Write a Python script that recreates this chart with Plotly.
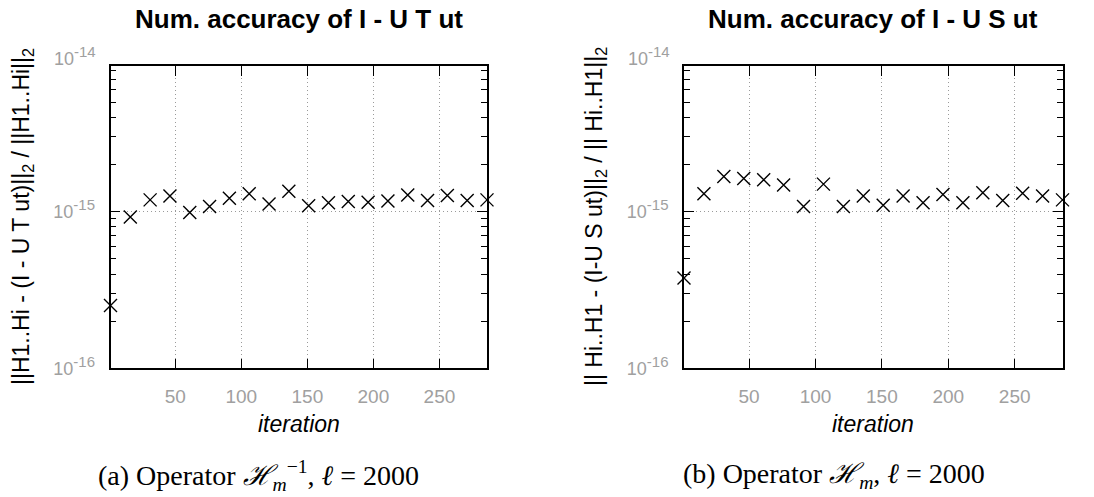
import plotly.graph_objects as go

# ---- data ----
iterations = [1, 16, 31, 46, 61, 76, 91, 106, 121, 136, 151, 166, 181, 196, 211, 226, 241, 256, 271, 286]
acc_UT = [2.52e-16, 9.25e-16, 1.19e-15, 1.26e-15, 0.99e-15, 1.08e-15, 1.22e-15, 1.30e-15, 1.12e-15, 1.35e-15,
          1.09e-15, 1.14e-15, 1.16e-15, 1.15e-15, 1.17e-15, 1.28e-15, 1.18e-15, 1.27e-15, 1.18e-15, 1.19e-15]
acc_US = [3.78e-16, 1.30e-15, 1.68e-15, 1.63e-15, 1.60e-15, 1.48e-15, 1.08e-15, 1.50e-15, 1.08e-15, 1.26e-15,
          1.10e-15, 1.26e-15, 1.14e-15, 1.29e-15, 1.14e-15, 1.32e-15, 1.18e-15, 1.31e-15, 1.26e-15, 1.19e-15]

x_ticks = [50, 100, 150, 200, 250]
y_ticks = [1e-16, 1e-15]
SUP = "<sup><span style='font-size:15px'>%s</span></sup>"
y_ticktext = ["10" + SUP % "-16", "10" + SUP % "-15"]
top_label = "10" + SUP % "-14"

titles = ["Num. accuracy of I - U T ut", "Num. accuracy of I - U S ut"]
ylabels = ["||H1..Hi - (I - U T ut)||<sub>2</sub> / ||H1..Hi||<sub>2</sub>",
           "|| Hi..H1 - (I-U S ut)||<sub>2</sub> / || Hi..H1||<sub>2</sub>"]
xlabel = "iteration"
captions = ["(a) Operator <i>ℋ</i><sub><i>m</i></sub><sup>−1</sup>, <i>ℓ</i> = 2000",
            "(b) Operator <i>ℋ</i><sub><i>m</i></sub>, <i>ℓ</i> = 2000"]

W, H = 1094, 497
SANS = "Liberation Sans, Arial, Helvetica, sans-serif"
SERIF = "Liberation Serif, Times New Roman, serif"

x_domains = [[110.5 / W, 487 / W], [684 / W, 1062.5 / W]]
y_bottom_px, y_top_px = 376.0, 67.0
y_domain = [1 - y_bottom_px / H, 1 - y_top_px / H]
y_range = [-16, -14.068]
decade_px = (y_bottom_px - y_top_px) / (y_range[1] - y_range[0])

fig = go.Figure()
for i, vals in enumerate([acc_UT, acc_US]):
    fig.add_trace(go.Scatter(
        x=iterations, y=vals, mode="markers",
        marker=dict(symbol="x-thin-open", size=13, color="black",
                    line=dict(color="black", width=1.4)),
        xaxis="x" if i == 0 else "x2", yaxis="y" if i == 0 else "y2",
        cliponaxis=False, showlegend=False, hoverinfo="skip"))

minor_vals = [k * 10.0 ** e for e in (-16, -15) for k in range(2, 10)]

axis_common = dict(showline=True, linecolor="black", linewidth=1.8, mirror="ticks",
                   ticks="inside", ticklen=10, tickwidth=1.2, tickcolor="black",
                   showgrid=True, gridcolor="#9a9a9a", griddash="1px,3px", gridwidth=1,
                   zeroline=False, tickfont=dict(family=SANS, size=19, color="#a0a0a0"))

layout = dict(width=W, height=H, margin=dict(l=0, r=0, t=0, b=0),
              paper_bgcolor="white", plot_bgcolor="white", showlegend=False)

for i in range(2):
    sx = "" if i == 0 else "2"
    layout["xaxis" + sx] = dict(axis_common, domain=x_domains[i], range=[1, 286],
                                tickmode="array", tickvals=x_ticks, ticklabelstandoff=10,
                                anchor="y" + sx)
    layout["yaxis" + sx] = dict(axis_common, domain=y_domain, type="log", range=y_range,
                                tickmode="array", tickvals=y_ticks, ticktext=y_ticktext,
                                tickfont=dict(family=SANS, size=18, color="#a0a0a0"),
                                ticklabelstandoff=10,
                                minor=dict(tickmode="array", tickvals=minor_vals, ticks="inside",
                                           ticklen=6, tickwidth=1.2, tickcolor="black", showgrid=False),
                                anchor="x" + sx)

fig.update_layout(**layout)

annotations = []
for i in range(2):
    xc = (x_domains[i][0] + x_domains[i][1]) / 2
    annotations.append(dict(text="<b>" + titles[i] + "</b>", x=xc, y=1 - 19 / H, xref="paper", yref="paper",
                            showarrow=False, font=dict(family=SANS, size=26, color="black"),
                            xanchor="center", yanchor="middle"))
    y14_px = y_bottom_px - 2 * decade_px
    annotations.append(dict(text=top_label, x=x_domains[i][0] - 12 / W, y=1 - (y14_px + 1) / H,
                            xref="paper", yref="paper",
                            showarrow=False, font=dict(family=SANS, size=18, color="#a0a0a0"),
                            xanchor="right", yanchor="middle"))
    annotations.append(dict(text="<i>" + xlabel + "</i>", x=xc, y=1 - 433 / H, xref="paper", yref="paper",
                            showarrow=False, font=dict(family=SANS, size=23, color="black"),
                            xanchor="center", yanchor="middle"))
    annotations.append(dict(text=ylabels[i], x=(22 if i == 0 else 595) / W, y=(y_domain[0] + y_domain[1]) / 2,
                            xref="paper", yref="paper", textangle=-90,
                            showarrow=False, font=dict(family=SANS, size=23, color="black"),
                            xanchor="center", yanchor="middle"))
    annotations.append(dict(text=captions[i], x=(258 if i == 0 else 834) / W, y=1 - 485 / H,
                            xref="paper", yref="paper",
                            showarrow=False, font=dict(family=SERIF, size=28, color="black"),
                            xanchor="center", yanchor="middle"))
fig.update_layout(annotations=annotations)

fig.write_html("out.html", config={"displayModeBar": False},
               post_script="document.body.style.margin='0px';document.body.style.overflow='hidden';")
